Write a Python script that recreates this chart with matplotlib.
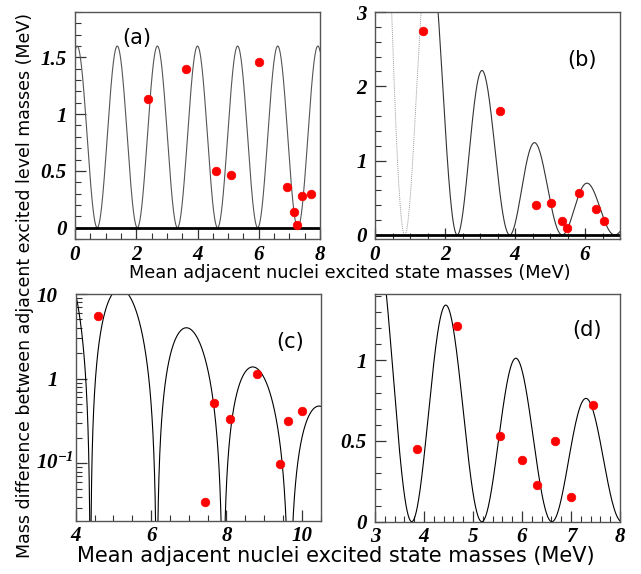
import numpy as np
import matplotlib
matplotlib.use("Agg")
import matplotlib.pyplot as plt
from matplotlib.ticker import MultipleLocator, FixedLocator, FixedFormatter, LogLocator, NullFormatter

plt.rcParams['font.family'] = 'Liberation Serif'
plt.rcParams['font.weight'] = 'bold'
plt.rcParams['font.style'] = 'italic'
plt.rcParams['mathtext.fontset'] = 'custom'
plt.rcParams['mathtext.rm'] = 'Liberation Serif:bold:italic'
plt.rcParams['mathtext.it'] = 'Liberation Serif:bold:italic'
plt.rcParams['mathtext.bf'] = 'Liberation Serif:bold:italic'

# ---------------- data ----------------
a_x = [2.39, 3.64, 6.02, 4.60, 5.08, 6.93, 7.16, 7.26, 7.40, 7.70]
a_y = [1.13, 1.40, 1.46, 0.50, 0.46, 0.36, 0.14, 0.02, 0.28, 0.30]

b_x = [1.37, 3.57, 4.61, 5.02, 5.34, 5.49, 5.83, 6.30, 6.55]
b_y = [2.74, 1.67, 0.40, 0.43, 0.19, 0.10, 0.56, 0.35, 0.19]

c_x = [4.58, 7.42, 7.68, 8.09, 8.81, 9.43, 9.64, 10.01]
c_y = [5.5, 0.035, 0.51, 0.33, 1.12, 0.097, 0.32, 0.41]

d_x = [3.85, 4.68, 5.56, 6.01, 6.31, 6.68, 7.01, 7.44]
d_y = [0.45, 1.21, 0.53, 0.38, 0.23, 0.50, 0.15, 0.72]

# model-curve parameters (amplitude at reference x, decay rate, zero position, period)
a_model = dict(amp=1.6, x_ref=0.0, decay=0.0, zero=0.725, period=1.31)
b_model = dict(amp=2.22, x_ref=3.07, decay=0.385, zero=0.85, period=1.5)
c_model = dict(amp=3.88, x_ref=7.03, decay=0.605, zero=4.39, period=1.76)
d_model = dict(amp=1.01, x_ref=5.895, decay=0.197, zero=3.75, period=1.43)

panel_labels = ['(a)', '(b)', '(c)', '(d)']
xlabel = 'Mean adjacent nuclei excited state masses (MeV)'
ylabel = 'Mass difference between adjacent excited level masses (MeV)'
c_ytick_vals = [1, 10]
c_ytick_labels = ['1', '10']
c_ytick_low = 0.1
c_ytick_low_label = r'$10^{-1}$'


def model(x, p):
    return p['amp'] * np.exp(-p['decay'] * (x - p['x_ref'])) * \
        np.sin(np.pi * (x - p['zero']) / p['period']) ** 2


W, H = 641, 574
fig = plt.figure(figsize=(W / 100, H / 100), dpi=100)

labfont = dict(family='DejaVu Sans', weight='normal', style='normal')


def make_ax(l, r, t, b):
    ax = fig.add_axes([l / W, 1 - b / H, (r - l) / W, (b - t) / H])
    for s in ax.spines.values():
        s.set_color('#555555')
        s.set_linewidth(1.0)
    ax.tick_params(which='both', direction='in', top=False, right=False, color='#333333',
                   labelsize=15)
    ax.tick_params(which='major', length=8, width=0.9)
    ax.tick_params(axis='x', which='major', pad=4)
    ax.tick_params(axis='y', which='major', pad=6)
    ax.tick_params(which='minor', length=4.5, width=0.8)
    return ax


def put_label(x, y, s):
    fig.text(x / W, 1 - y / H, s, fontsize=15, ha='center', va='center', **labfont)


dot = dict(ls='none', marker='o', ms=6.2, mfc='#ff0000', mec='#ff0000', mew=0.5, zorder=5)

# ---------------- (a) ----------------
ax = make_ax(75, 320, 12, 239)
xs = np.linspace(0, 8, 2000)
ax.plot(xs, model(xs, a_model), color='#555555', lw=0.8)
ax.axhline(0, color='black', lw=2.0)
ax.plot(a_x, a_y, **dot)
ax.set_xlim(0, 8)
ax.set_ylim(-0.1, 1.9)
ax.xaxis.set_major_locator(FixedLocator([0, 2, 4, 6, 8]))
ax.xaxis.set_minor_locator(MultipleLocator(0.5))
ax.yaxis.set_major_locator(FixedLocator([0, 0.5, 1, 1.5]))
ax.yaxis.set_major_formatter(FixedFormatter(['0', '0.5', '1', '1.5']))
ax.yaxis.set_minor_locator(MultipleLocator(0.1))
put_label(137, 38, panel_labels[0])

# ---------------- (b) ----------------
ax = make_ax(375, 620, 12, 239)
xs1 = np.linspace(0, 1.55, 600)
xs2 = np.linspace(1.55, 7.0, 3000)
ax.plot(xs1, model(xs1, b_model), color='#999999', lw=0.7, ls=(0, (1, 1)))
ax.plot(xs2, model(xs2, b_model), color='#333333', lw=0.8)
ax.axhline(0, color='black', lw=2.0)
ax.plot(b_x, b_y, **dot)
ax.set_xlim(0, 7)
ax.set_ylim(-0.054, 3.0)
ax.xaxis.set_major_locator(FixedLocator([0, 2, 4, 6]))
ax.xaxis.set_minor_locator(MultipleLocator(0.5))
ax.yaxis.set_major_locator(FixedLocator([0, 1, 2, 3]))
ax.yaxis.set_minor_locator(MultipleLocator(0.2))
put_label(582, 60, panel_labels[1])

# ---------------- (c) ----------------
ax = make_ax(75.7, 320.7, 294, 520.7)
xs = np.linspace(4, 10.5, 6000)
ax.plot(xs, model(xs, c_model), color='black', lw=0.8)
ax.plot(c_x, c_y, **dot)
ax.set_yscale('log')
ax.set_xlim(4, 10.5)
ax.set_ylim(0.021, 10)
ax.xaxis.set_major_locator(FixedLocator([4, 6, 8, 10]))
ax.xaxis.set_minor_locator(MultipleLocator(0.5))
ax.yaxis.set_major_locator(FixedLocator([c_ytick_low] + c_ytick_vals))
ax.yaxis.set_major_formatter(FixedFormatter([''] + c_ytick_labels))
ax.yaxis.set_minor_locator(LogLocator(base=10, subs=np.arange(2, 10)))
ax.yaxis.set_minor_formatter(NullFormatter())
ax.tick_params(axis='y', which='major', pad=13)
ax.text(-0.008, c_ytick_low, c_ytick_low_label, transform=ax.get_yaxis_transform(),
        ha='right', va='center', fontsize=15)
put_label(290, 342, panel_labels[2])

# ---------------- (d) ----------------
ax = make_ax(375, 620, 294, 521.7)
xs = np.linspace(3, 8, 3000)
ax.plot(xs, model(xs, d_model), color='black', lw=0.8)
ax.plot(d_x, d_y, **dot)
ax.set_xlim(3, 8)
ax.set_ylim(0, 1.41)
ax.xaxis.set_major_locator(FixedLocator([3, 4, 5, 6, 7, 8]))
ax.xaxis.set_minor_locator(MultipleLocator(0.2))
ax.yaxis.set_major_locator(FixedLocator([0, 0.5, 1]))
ax.yaxis.set_major_formatter(FixedFormatter(['0', '0.5', '1']))
ax.yaxis.set_minor_locator(MultipleLocator(0.1))
put_label(587, 330, panel_labels[3])

# ---------------- axis titles ----------------
fig.text(350 / W, 1 - 273.5 / H, xlabel, fontsize=12.8, ha='center', va='center', **labfont)
fig.text(336 / W, 1 - 556 / H, xlabel, fontsize=15, ha='center', va='center', **labfont)
fig.text(25 / W, 1 - 285 / H, ylabel, fontsize=12.5, rotation=90, ha='center', va='center', **labfont)

fig.savefig('out.png', dpi=100)
